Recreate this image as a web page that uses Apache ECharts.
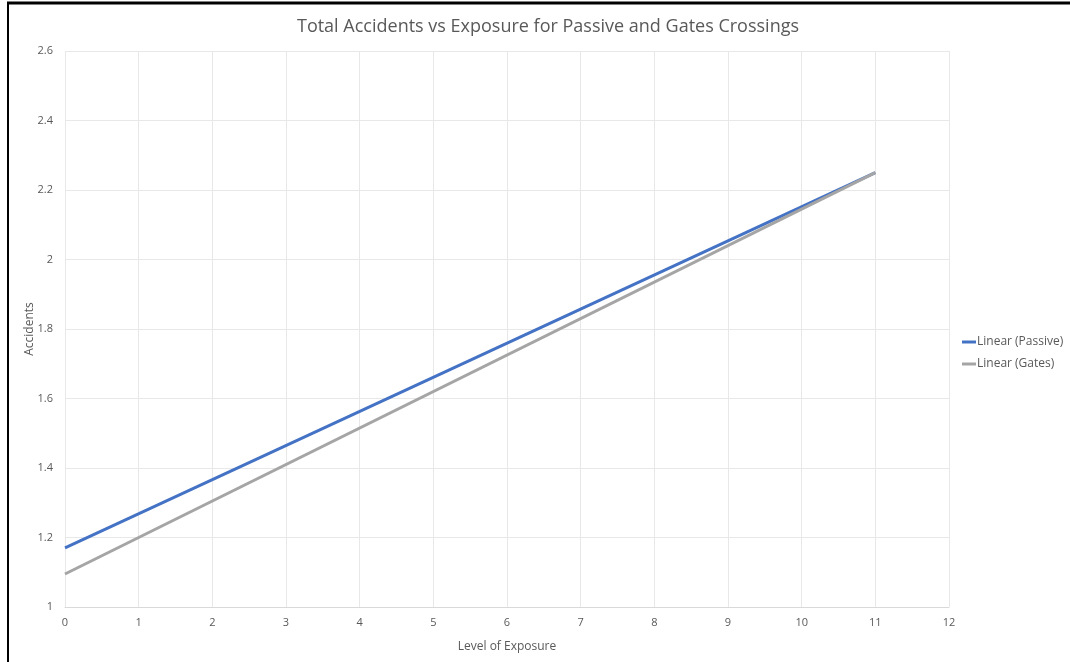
<!DOCTYPE html>
<html>
<head>
<meta charset="utf-8">
<script src="https://cdn.jsdelivr.net/npm/echarts@6/dist/echarts.min.js"></script>
<style>
html,body{margin:0;padding:0;background:#fff;}
#main{width:1070px;height:662px;}
</style>
</head>
<body>
<div id="main"></div>
<script>
const seriesNames = ['Linear (Passive)', 'Linear (Gates)'];
const passiveData = [[0, 1.17], [11, 2.25]];
const gatesData = [[0, 1.095], [11, 2.25]];
const xTicks = [0, 1, 2, 3, 4, 5, 6, 7, 8, 9, 10, 11, 12];
const yTicks = [1, 1.2, 1.4, 1.6, 1.8, 2, 2.2, 2.4, 2.6];

const chart = echarts.init(document.getElementById('main'));
const font = "'Open Sans', 'Liberation Sans', sans-serif";
chart.setOption({
  animation: false,
  backgroundColor: '#fff',
  textStyle: { fontFamily: font },
  title: {
    text: 'Total Accidents vs Exposure for Passive and Gates Crossings',
    left: 543, top: 13, textAlign: 'center',
    textStyle: { fontSize: 18, fontWeight: 'normal', color: '#595959', fontFamily: font }
  },
  graphic: [
    { type: 'line', shape: { x1: 7, y1: 3, x2: 1070, y2: 3 }, style: { stroke: '#000', lineWidth: 3 } },
    { type: 'line', shape: { x1: 8, y1: 2, x2: 8, y2: 662 }, style: { stroke: '#000', lineWidth: 2 } }
  ],
  legend: {
    orient: 'vertical', left: 957, top: 331, itemGap: 10,
    itemWidth: 14, itemHeight: 3, icon: 'rect',
    textStyle: { fontSize: 12, color: '#595959', padding: [0, 0, 0, -4] },
    data: seriesNames
  },
  grid: { left: 65, right: 121, top: 51, bottom: 55 },
  xAxis: {
    type: 'value', min: 0, max: 12, interval: 1,
    name: 'Level of Exposure', nameLocation: 'middle', nameGap: 34,
    nameTextStyle: { fontSize: 12, color: '#595959' },
    axisLine: { show: true, lineStyle: { color: '#d9d9d9' } },
    axisTick: { show: false },
    axisLabel: { fontSize: 11, color: '#595959', margin: 10,
      formatter: v => xTicks.includes(v) ? String(v) : '' },
    splitLine: { show: true, lineStyle: { color: '#e8e8e8' } }
  },
  yAxis: {
    type: 'value', min: 1, max: 2.6, interval: 0.2,
    name: 'Accidents', nameLocation: 'middle', nameGap: 29, nameMoveOverlap: false,
    nameTextStyle: { fontSize: 12, color: '#595959' },
    axisLine: { show: false },
    axisTick: { show: false },
    axisLabel: { fontSize: 11, color: '#595959', margin: 12,
      formatter: v => { const r = Math.round(v * 10) / 10; return yTicks.includes(r) ? String(r) : ''; } },
    splitLine: { show: true, lineStyle: { color: '#e8e8e8' } }
  },
  series: [
    { name: seriesNames[0], type: 'line', data: passiveData, showSymbol: false,
      lineStyle: { color: '#4472C4', width: 3 }, itemStyle: { color: '#4472C4' } },
    { name: seriesNames[1], type: 'line', data: gatesData, showSymbol: false,
      lineStyle: { color: '#A5A5A5', width: 3 }, itemStyle: { color: '#A5A5A5' } }
  ]
});
</script>
</body>
</html>
